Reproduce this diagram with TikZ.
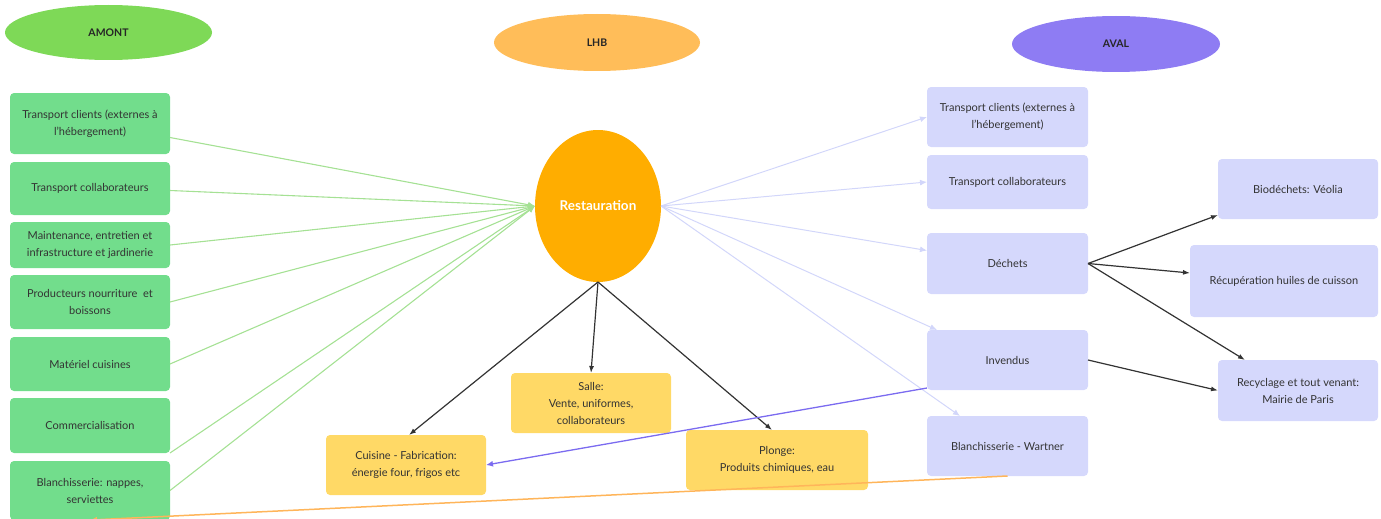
\documentclass[tikz,border=0pt]{standalone}
\usepackage{fontspec}
\setmainfont{Lato}
\usetikzlibrary{shapes.geometric,arrows.meta}
\definecolor{amontgreen}{HTML}{7ED957}
\definecolor{lhborange}{HTML}{FFBD59}
\definecolor{avalpurple}{HTML}{8E7CF3}
\definecolor{boxgreen}{HTML}{72DD8C}
\definecolor{boxyellow}{HTML}{FFD966}
\definecolor{boxlavender}{HTML}{D5D8FC}
\definecolor{restorange}{HTML}{FFAD00}
\definecolor{greenline}{HTML}{A5E194}
\definecolor{blueline}{HTML}{D2D6FA}
\definecolor{purpleline}{HTML}{7B6BF0}
\definecolor{orangeline}{HTML}{FFB55A}
\definecolor{textgray}{HTML}{333333}
\tikzset{
	hdr/.style={ellipse, minimum width=207pt, minimum height=55pt, inner sep=0pt, outer sep=0pt, text=black!85, font=\fontsize{10.5}{12}\selectfont\bfseries},
	boxbase/.style={rectangle, rounded corners=4pt, minimum width=160pt, inner sep=2pt, outer sep=0pt, align=center, text=textgray, font=\fontsize{11}{17}\selectfont},
	amontbox/.style={boxbase, fill=boxgreen},
	avalbox/.style={boxbase, fill=boxlavender},
	lhbbox/.style={boxbase, fill=boxyellow},
	inflow/.style={greenline, line width=1.1pt, -{Latex[length=7pt,width=6pt]}},
	outflow/.style={blueline, line width=1pt, -{Latex[length=7pt,width=6pt]}},
	blackflow/.style={black!80, line width=1.2pt, -{Latex[length=7pt,width=5pt]}}
}
\begin{document}
\begin{tikzpicture}[x=1pt, y=-1pt]
	%%%%% START %%%%%
	\useasboundingbox (0,0) rectangle (1381,519);
	\clip (0,0) rectangle (1381,519);
	
	% headers
	\node[hdr, fill=amontgreen] (amont) at (108.5, 32.5) {AMONT};
	\node[hdr, fill=lhborange, minimum height=57pt, minimum width=206pt] (lhb) at (597, 42.5) {LHB};
	\node[hdr, fill=avalpurple, minimum height=56pt, minimum width=208pt] (aval) at (1116, 44) {AVAL};
	
	% amont
	\node[amontbox, minimum height=61pt] (g1) at (90, 123.5) {Transport clients (externes à\\l'hébergement)};
	\node[amontbox, minimum height=53pt] (g2) at (90, 188.5) {Transport collaborateurs};
	\node[amontbox, minimum height=46pt] (g3) at (90, 245) {Maintenance, entretien et\\infrastructure et jardinerie};
	\node[amontbox, minimum height=54pt] (g4) at (90, 302) {Producteurs nourriture\ \ et\\boissons};
	\node[amontbox, minimum height=54pt] (g5) at (90, 364) {Matériel cuisines};
	\node[amontbox, minimum height=55pt] (g6) at (90, 425.5) {Commercialisation};
	\node[amontbox, minimum height=59pt] (g7) at (90, 490.5) {Blanchisserie: nappes,\\serviettes};
	
	% lhb
	\node[ellipse, fill=restorange, minimum width=126pt, minimum height=152pt, inner sep=0pt, outer sep=0pt, text=white, font=\fontsize{13.5}{15}\selectfont\bfseries] (restau) at (598, 206) {Restauration};
	\node[lhbbox, minimum height=60pt] (cuisine) at (406, 465) {Cuisine - Fabrication:\\énergie four, frigos etc};
	\node[lhbbox, minimum height=60pt] (salle) at (591, 403) {Salle:\\Vente, uniformes,\\collaborateurs};
	\node[lhbbox, minimum height=60pt, minimum width=182pt] (plonge) at (777, 460) {Plonge:\\Produits chimiques, eau};
	
	% aval
	\node[avalbox, minimum height=60pt, minimum width=161pt] (a1) at (1007.5, 117) {Transport clients (externes à\\l'hébergement)};
	\node[avalbox, minimum height=54pt, minimum width=161pt] (a2) at (1007.5, 182) {Transport collaborateurs};
	\node[avalbox, minimum height=61pt, minimum width=161pt] (a3) at (1007.5, 263.5) {Déchets};
	\node[avalbox, minimum height=60pt, minimum width=161pt] (a4) at (1007.5, 360) {Invendus};
	\node[avalbox, minimum height=60pt, minimum width=161pt] (a5) at (1007.5, 446) {Blanchisserie - Wartner};
	
	\node[avalbox, minimum height=60pt] (b1) at (1298, 189) {Biodéchets: Véolia};
	\node[avalbox, minimum height=72pt, minimum width=188pt] (b2) at (1284, 281) {Récupération huiles de cuisson};
	\node[avalbox, minimum height=61pt] (b3) at (1298, 390.5) {Recyclage et tout venant:\\Mairie de Paris};
	
	% amont -> restauration
	\draw[inflow] ([yshift=-14pt]g1.east) -- (restau.west);
	\draw[inflow] ([yshift=-2pt]g2.east) -- (restau.west);
	\draw[inflow] (g3.east) -- (restau.west);
	\draw[inflow] (g4.east) -- (restau.west);
	\draw[inflow] (g5.east) -- (restau.west);
	\draw[inflow] (g6.south east) -- (restau.west);
	\draw[inflow] (g7.east) -- (restau.west);
	
	% restauration -> aval
	\draw[outflow] (restau.east) -- (a1.west);
	\draw[outflow] (restau.east) -- (a2.west);
	\draw[outflow] (restau.east) -- ([yshift=13pt]a3.west);
	\draw[outflow] (restau.east) -- ([xshift=10pt]a4.north west);
	\draw[outflow] (restau.east) -- ([xshift=33pt]a5.north west);
	
	% restauration -> lhb
	\draw[blackflow] (restau.south) -- ([xshift=3pt]cuisine.north);
	\draw[blackflow] (restau.south) -- (salle.north);
	\draw[blackflow] (restau.south) -- ([xshift=-5pt]plonge.north);
	
	% dechets, invendus
	\draw[blackflow] (a3.east) -- ([yshift=4pt]b1.south west);
	\draw[blackflow] (a3.east) -- ([yshift=8pt]b2.west);
	\draw[blackflow] (a3.east) -- ([xshift=27pt]b3.north west);
	\draw[blackflow] (a4.east) -- (b3.west);
	
	\draw[purpleline, line width=1.3pt, -{Latex[length=7pt,width=6pt]}] ([yshift=2pt]a4.south west) -- (cuisine.east);
	\draw[orangeline, line width=1.5pt, -{Latex[length=7pt,width=6pt]}] (a5.south) -- (g7.south);
	
	%%%%% END %%%%%
\end{tikzpicture}
\end{document}
